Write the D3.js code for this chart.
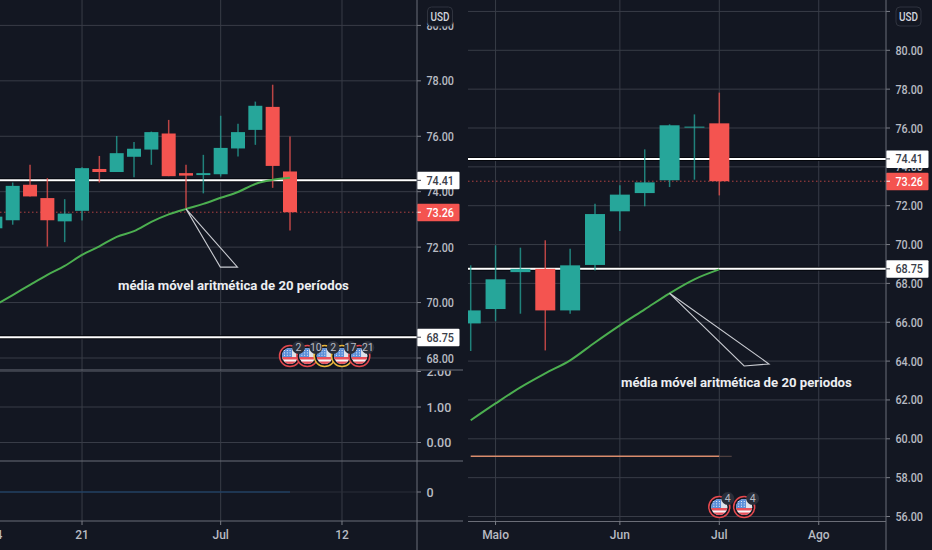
<!DOCTYPE html>
<html>
<head>
<meta charset="utf-8">
<script src="https://cdn.jsdelivr.net/npm/d3@7"></script>
<style>
  html, body { margin: 0; padding: 0; background: #131722; }
  svg { display: block; }
  text { font-family: "Roboto", sans-serif; }
</style>
</head>
<body>
<div id="chart"></div>
<script>
// Left chart data
const leftIdx   = [-1,0,1,2,3,4,5,6,7,8,9,10,11,12,13,14,15,16];
const leftOpen  = [72.68,72.97,74.25,73.77,72.93,73.31,74.82,74.71,75.26,75.52,76.10,74.67,74.60,74.63,75.56,76.23,77.06,74.73];
const leftClose = [73.10,74.21,73.83,72.97,73.21,74.85,74.71,75.39,75.55,76.15,74.56,74.58,74.67,75.58,76.15,77.10,74.93,73.26];
const leftHigh  = [73.30,74.33,74.97,74.49,73.73,74.88,75.29,76.01,75.79,76.17,76.59,74.97,75.33,76.74,76.45,77.25,77.86,75.99];
const leftLow   = [72.50,72.81,73.83,72.02,72.18,72.96,74.33,74.71,74.52,74.97,74.56,73.40,73.94,74.55,75.27,75.69,74.14,72.60];
const leftMA    = [69.91,70.27,70.64,71.00,71.32,71.72,72.03,72.37,72.58,72.91,73.18,73.38,73.56,73.78,73.99,74.28,74.43,74.50];
const leftTicks = [80,78,76,74,72,70,68];
const leftSubTicks = [2,1,0];
const leftDates = ["14","21","Jul","12"];
const leftDateIdx = [-1,4,12,19];
const leftEvents = ["2","10","2","17","21"];
const leftEventIdx = [16,17,18,19,20];
const leftEventColor = ["#e5484d","#e5484d","#e8b53a","#e8b53a","#e5484d"];
const leftArrowIdx = [10,11.98,12.97];
const leftArrowPrice = [73.38,71.28,71.28];

// Right chart data
const rightIdx   = [0,1,2,3,4,5,6,7,8,9,10];
const rightOpen  = [65.94,66.68,68.58,68.75,66.61,68.95,71.71,72.65,73.31,76.04,76.24];
const rightClose = [66.61,68.21,68.75,66.61,68.93,71.57,72.57,73.20,76.14,76.07,73.26];
const rightHigh  = [68.93,69.96,69.84,70.22,69.79,72.10,73.05,74.90,76.19,76.70,77.82];
const rightLow   = [64.52,66.05,66.44,64.55,66.44,68.67,70.70,71.97,72.96,73.34,72.53];
const rightMA    = [60.95,61.82,62.65,63.37,64.04,64.96,65.84,66.66,67.49,68.21,68.72];
const rightTicks = [82,80,78,76,74,72,70,68,66,64,62,60,58,56];
const rightDates = ["Maio","Jun","Jul","Ago"];
const rightDateIdx = [1,6,10,14];
const rightEvents = ["4","4"];
const rightEventIdx = [10,11];
const rightEventColor = ["#e5484d","#e5484d"];
const rightArrowIdx = [8,11,12];
const rightArrowPrice = [67.49,63.75,63.85];
const rightOrangeIdx = [0,10,10.5];
const rightOrangePrice = [59.1,59.1,59.1];

// Shared price levels
const lineUpper = 74.41;
const lineLower = 68.75;
const lastPrice = 73.26;

const width = 932;
const height = 550;
const bg = "#131722";
const gridColor = "#383c47";
const sepColor = "#6b6e78";
const axisColor = "#7a7d86";
const labelColor = "#b8bbc3";
const teal = "#26a69a";
const red = "#f45450";
const green = "#4caf50";

const svg = d3.select("#chart").append("svg")
  .attr("width", width)
  .attr("height", height)
  .attr("viewBox", [0, 0, width, height]);

svg.append("rect").attr("width", width).attr("height", height).attr("fill", bg);

const defs = svg.append("defs");

function addClip(id, x, y, w, h) {
  defs.append("clipPath").attr("id", id)
    .append("rect").attr("x", x).attr("y", y).attr("width", w).attr("height", h);
}

// axis numbers in the reference are condensed, so squeeze the 5 character ones
function axisText(g, axisX, y, label, color) {
  const t = g.append("text").attr("x", axisX + 9.5).attr("y", y).attr("dy", "0.36em")
    .attr("font-size", 12.5).attr("font-weight", 500).attr("fill", color).text(label);
  if (label.length === 5) {
    t.attr("textLength", 27.5).attr("lengthAdjust", "spacingAndGlyphs");
  }
}

// one tick label on the price axis with its little tick
function priceTick(g, axisX, y, label) {
  g.append("line").attr("x1", axisX).attr("x2", axisX + 4).attr("y1", y).attr("y2", y).attr("stroke", axisColor);
  axisText(g, axisX, y, label, labelColor);
}

// coloured price tag on the axis
function priceTag(g, axisX, y, label, fill, color) {
  g.append("rect").attr("x", axisX).attr("y", y - 8.5).attr("width", 42.5).attr("height", 17.5).attr("rx", 1).attr("fill", fill);
  g.append("line").attr("x1", axisX).attr("x2", axisX + 4).attr("y1", y).attr("y2", y).attr("stroke", color);
  axisText(g, axisX, y, label, color);
}

function drawCandles(g, x, y, idx, open, close, high, low, bodyW) {
  const rows = d3.range(idx.length);
  g.selectAll(".wick").data(rows).enter().append("line")
    .attr("x1", i => x(idx[i])).attr("x2", i => x(idx[i]))
    .attr("y1", i => y(high[i])).attr("y2", i => y(low[i]))
    .attr("stroke", i => close[i] >= open[i] ? teal : red)
    .attr("stroke-opacity", 0.75)
    .attr("stroke-width", 1.5);
  g.selectAll(".body").data(rows).enter().append("rect")
    .attr("x", i => x(idx[i]) - bodyW / 2)
    .attr("y", i => y(Math.max(open[i], close[i])))
    .attr("width", bodyW)
    .attr("height", i => Math.max(1, Math.abs(y(open[i]) - y(close[i]))))
    .attr("fill", i => close[i] >= open[i] ? teal : red);
}

function drawLevel(g, y, value, x0, x1) {
  g.append("line").attr("x1", x0).attr("x2", x1).attr("y1", y(value)).attr("y2", y(value))
    .attr("stroke", "#05070c").attr("stroke-width", 4);
  g.append("line").attr("x1", x0).attr("x2", x1).attr("y1", y(value)).attr("y2", y(value))
    .attr("stroke", "#ffffff").attr("stroke-width", 2);
}

// round flag marker with a small counter badge
function drawEvents(g, x, cy, idx, color, labels, clipPrefix) {
  const r = 10;
  labels.forEach((label, i) => {
    const cx = x(idx[i]);
    const id = clipPrefix + i;
    defs.append("clipPath").attr("id", id).append("circle").attr("cx", cx).attr("cy", cy).attr("r", r - 2);
    const flag = g.append("g");
    flag.append("circle").attr("cx", cx).attr("cy", cy).attr("r", r + 0.5)
      .attr("fill", bg).attr("stroke", color[i]).attr("stroke-width", 1.5);
    const inner = flag.append("g").attr("clip-path", `url(#${id})`);
    inner.append("rect").attr("x", cx - r).attr("y", cy - r).attr("width", 2 * r).attr("height", 2 * r).attr("fill", "#f4f4f6");
    inner.append("rect").attr("x", cx - r).attr("y", cy + 1).attr("width", 2 * r).attr("height", 2.5).attr("fill", "#e8505b");
    inner.append("rect").attr("x", cx - r).attr("y", cy + 5.5).attr("width", 2 * r).attr("height", 3).attr("fill", "#e8505b");
    inner.append("rect").attr("x", cx - r).attr("y", cy - r).attr("width", r + 2).attr("height", r + 1).attr("fill", "#5b8fd9");
    inner.append("rect").attr("x", cx + 2).attr("y", cy - r).attr("width", r).attr("height", r + 1).attr("fill", "#dfe3ea");
    d3.range(3).forEach(a => d3.range(3).forEach(b => {
      inner.append("rect").attr("x", cx - 6 + a * 2.8).attr("y", cy - 6 + b * 2.4).attr("width", 1).attr("height", 1).attr("fill", "#e8edf6");
    }));
  });
  labels.forEach((label, i) => {
    const cx = x(idx[i]) + 8.5;
    const by = cy - 8.5;
    g.append("circle").attr("cx", cx).attr("cy", by).attr("r", 6.5).attr("fill", "#2a2e39");
    g.append("text").attr("x", cx).attr("y", by).attr("dy", "0.36em").attr("text-anchor", "middle")
      .attr("font-size", 10.5).attr("fill", labelColor).text(label);
  });
}

function drawArrow(g, x, y, idx, price) {
  const line = d3.line().x(i => x(idx[i])).y(i => y(price[i]));
  g.append("path").attr("d", line(d3.range(idx.length)) + "Z")
    .attr("fill", "none").attr("stroke", "#c8cad0").attr("stroke-width", 1.1);
}

function dateLabel(x, label) {
  svg.append("line").attr("x1", x).attr("x2", x).attr("y1", 521).attr("y2", 525).attr("stroke", axisColor);
  svg.append("text").attr("x", x).attr("y", 535).attr("dy", "0.36em").attr("text-anchor", "middle")
    .attr("font-size", 12).attr("font-weight", 500).attr("fill", labelColor).text(label);
}

function usdBox(x, y) {
  svg.append("rect").attr("x", x).attr("y", y).attr("width", 25).attr("height", 19).attr("rx", 4)
    .attr("fill", bg).attr("stroke", "#2f333e");
  svg.append("text").attr("x", x + 12.5).attr("y", y + 9.5).attr("dy", "0.36em").attr("text-anchor", "middle")
    .attr("font-size", 12.5).attr("font-weight", 500).attr("fill", "#d1d4dc")
    .attr("textLength", 19).attr("lengthAdjust", "spacingAndGlyphs").text("USD");
}

/*

  Left chart

*/
const xL = d3.scaleLinear().domain([0, 16]).range([12.7, 290]);
const yL = d3.scaleLinear().domain([80, 68]).range([25.4, 358]);
const ySub = d3.scaleLinear().domain([2, 0]).range([371.5, 442.5]);
const yVol = d3.scaleLinear().domain([0, 1]).range([492, 462]);
const leftAxisX = 417;

addClip("clip-left-main", 0, 0, leftAxisX, 370);
addClip("clip-left-axis", leftAxisX, 0, 50, 370);
addClip("clip-left-axis-sub", leftAxisX, 370.5, 50, 90);

const gL = svg.append("g");

// gridlines
leftDateIdx.forEach(d => {
  gL.append("line").attr("x1", xL(d)).attr("x2", xL(d)).attr("y1", 0).attr("y2", 521).attr("stroke", gridColor);
});
const gLgrid = gL.append("g").attr("clip-path", "url(#clip-left-main)");
leftTicks.forEach(t => {
  gLgrid.append("line").attr("x1", 0).attr("x2", leftAxisX).attr("y1", yL(t)).attr("y2", yL(t)).attr("stroke", gridColor);
});
leftSubTicks.forEach(t => {
  gL.append("line").attr("x1", 0).attr("x2", leftAxisX).attr("y1", ySub(t)).attr("y2", ySub(t)).attr("stroke", gridColor);
});
gL.append("line").attr("x1", 0).attr("x2", leftAxisX).attr("y1", yVol(0)).attr("y2", yVol(0)).attr("stroke", "#2a2e39");
gL.append("line").attr("x1", 0).attr("x2", xL(leftEventIdx[0])).attr("y1", yVol(0)).attr("y2", yVol(0)).attr("stroke", "#1f4a78");

const gLmain = gL.append("g").attr("clip-path", "url(#clip-left-main)");
gLmain.append("line").attr("x1", 0).attr("x2", leftAxisX).attr("y1", yL(lastPrice)).attr("y2", yL(lastPrice))
  .attr("stroke", red).attr("stroke-opacity", 0.7).attr("stroke-dasharray", "1.5 2.5");
drawLevel(gLmain, yL, lineUpper, 0, leftAxisX);
drawLevel(gLmain, yL, lineLower, 0, leftAxisX);
drawCandles(gLmain, xL, yL, leftIdx, leftOpen, leftClose, leftHigh, leftLow, 14);
gLmain.append("path").datum(d3.range(leftIdx.length))
  .attr("fill", "none").attr("stroke", green).attr("stroke-width", 2)
  .attr("d", d3.line().curve(d3.curveMonotoneX).x(i => xL(leftIdx[i])).y(i => yL(leftMA[i])));
drawArrow(gLmain, xL, yL, leftArrowIdx, leftArrowPrice);
gLmain.append("text").attr("x", 118).attr("y", yL(70.62)).attr("dy", "0.36em")
  .attr("font-size", 13.2).attr("font-weight", 700).attr("fill", "#eceef1").text("média móvel aritmética de 20 períodos");
drawEvents(gL, xL, 356, leftEventIdx, leftEventColor, leftEvents, "fl");

// left axis column
const gLa = svg.append("g").attr("clip-path", "url(#clip-left-axis)");
leftTicks.forEach(t => priceTick(gLa, leftAxisX, yL(t), d3.format(".2f")(t)));
priceTag(gLa, leftAxisX, yL(lineUpper), "74.41", "#ffffff", "#3a3e4a");
priceTag(gLa, leftAxisX, yL(lastPrice), "73.26", red, "#ffffff");
priceTag(gLa, leftAxisX, yL(lineLower), "68.75", "#ffffff", "#3a3e4a");
const gLs = svg.append("g").attr("clip-path", "url(#clip-left-axis-sub)");
leftSubTicks.forEach(t => priceTick(gLs, leftAxisX, ySub(t), d3.format(".2f")(t)));
priceTick(svg, leftAxisX, yVol(0), "0");

// pane separators and axis line
[370, 461, 521].forEach(s => {
  svg.append("line").attr("x1", 0).attr("x2", 463).attr("y1", s).attr("y2", s).attr("stroke", sepColor);
});
svg.append("line").attr("x1", leftAxisX).attr("x2", leftAxisX).attr("y1", 0).attr("y2", height).attr("stroke", sepColor);

leftDates.forEach((d, i) => dateLabel(xL(leftDateIdx[i]), d));
usdBox(427.5, 7);

/*

  Right chart

*/
const xR = d3.scaleLinear().domain([0, 10]).range([470.7, 719.3]);
const yR = d3.scaleLinear().domain([80, 56]).range([50.3, 516.5]);
const rightStart = 468;
const rightAxisX = 886;

addClip("clip-right-main", rightStart, 0, rightAxisX - rightStart, 521);

const gR = svg.append("g");
rightDateIdx.forEach(d => {
  gR.append("line").attr("x1", xR(d)).attr("x2", xR(d)).attr("y1", 0).attr("y2", 521).attr("stroke", gridColor);
});
rightTicks.forEach(t => {
  gR.append("line").attr("x1", rightStart).attr("x2", rightAxisX).attr("y1", yR(t)).attr("y2", yR(t)).attr("stroke", gridColor);
});

const gRmain = gR.append("g").attr("clip-path", "url(#clip-right-main)");
gRmain.append("line").attr("x1", rightStart).attr("x2", rightAxisX).attr("y1", yR(lastPrice)).attr("y2", yR(lastPrice))
  .attr("stroke", red).attr("stroke-opacity", 0.7).attr("stroke-dasharray", "1.5 2.5");
drawLevel(gRmain, yR, lineUpper, rightStart, rightAxisX);
drawLevel(gRmain, yR, lineLower, rightStart, rightAxisX);
gRmain.append("path").datum(d3.range(rightOrangeIdx.length - 1))
  .attr("fill", "none").attr("stroke", "#d98c6c").attr("stroke-width", 1.5)
  .attr("d", d3.line().x(i => xR(rightOrangeIdx[i])).y(i => yR(rightOrangePrice[i])));
gRmain.append("line").attr("x1", xR(rightOrangeIdx[1])).attr("x2", xR(rightOrangeIdx[2]))
  .attr("y1", yR(rightOrangePrice[1])).attr("y2", yR(rightOrangePrice[2])).attr("stroke", "#5e4a48");
drawCandles(gRmain, xR, yR, rightIdx, rightOpen, rightClose, rightHigh, rightLow, 20);
gRmain.append("path").datum(d3.range(rightIdx.length))
  .attr("fill", "none").attr("stroke", green).attr("stroke-width", 2)
  .attr("d", d3.line().curve(d3.curveMonotoneX).x(i => xR(rightIdx[i])).y(i => yR(rightMA[i])));
drawArrow(gRmain, xR, yR, rightArrowIdx, rightArrowPrice);
gRmain.append("text").attr("x", 621).attr("y", yR(62.92)).attr("dy", "0.36em")
  .attr("font-size", 13.2).attr("font-weight", 700).attr("fill", "#eceef1").text("média móvel aritmética de 20 periodos");
drawEvents(gR, xR, 507, rightEventIdx, rightEventColor, rightEvents, "fr");

// right axis column
const gRa = svg.append("g");
rightTicks.slice(1).forEach(t => priceTick(gRa, rightAxisX, yR(t), d3.format(".2f")(t)));
gRa.append("line").attr("x1", rightAxisX).attr("x2", rightAxisX + 4).attr("y1", yR(82)).attr("y2", yR(82)).attr("stroke", axisColor);
priceTag(gRa, rightAxisX, yR(lineUpper), "74.41", "#ffffff", "#3a3e4a");
priceTag(gRa, rightAxisX, yR(lastPrice), "73.26", red, "#ffffff");
priceTag(gRa, rightAxisX, yR(lineLower), "68.75", "#ffffff", "#3a3e4a");

svg.append("line").attr("x1", rightStart).attr("x2", rightAxisX).attr("y1", 521.5).attr("y2", 521.5).attr("stroke", sepColor);
svg.append("line").attr("x1", rightAxisX).attr("x2", rightAxisX).attr("y1", 0).attr("y2", height).attr("stroke", sepColor);

rightDates.forEach((d, i) => dateLabel(xR(rightDateIdx[i]), d));
usdBox(896, 7);
</script>
</body>
</html>
